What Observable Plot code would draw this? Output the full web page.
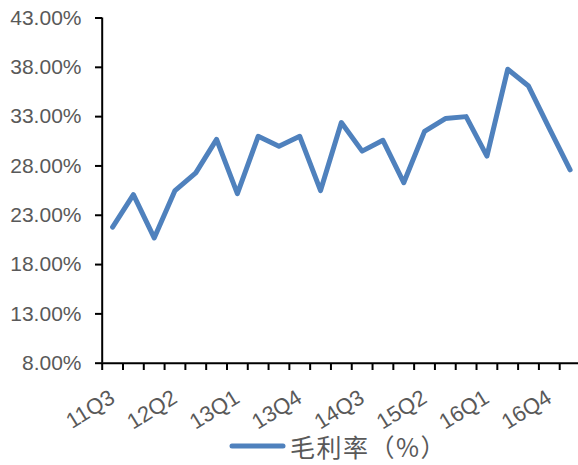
<!DOCTYPE html>
<html>
<head>
<meta charset="utf-8">
<script src="https://cdn.jsdelivr.net/npm/d3@7"></script>
<script src="https://cdn.jsdelivr.net/npm/@observablehq/plot@0.6"></script>
<style>
  html, body { margin: 0; padding: 0; background: #fff; }
  #chart { width: 578px; height: 465px; position: relative; }
  #legend {
    position: absolute; left: 229px; top: 433px; height: 26px;
    display: flex; align-items: center; gap: 4px;
    font-family: "Noto Sans CJK SC", "Noto Sans", sans-serif;
    font-size: 25px; line-height: 26px; letter-spacing: 1.5px; color: #595959;
  }
  #legend svg { display: block; }
</style>
</head>
<body>
<div id="chart"></div>
<script>
// Quarterly gross margin, 2011 Q3 – 2017 Q1
const quarters = ["11Q3","11Q4","12Q1","12Q2","12Q3","12Q4","13Q1","13Q2","13Q3","13Q4",
                  "14Q1","14Q2","14Q3","14Q4","15Q1","15Q2","15Q3","15Q4","16Q1","16Q2",
                  "16Q3","16Q4","17Q1"];
const grossMargin = [21.8, 25.1, 20.7, 25.5, 27.3, 30.7, 25.2, 31.0, 30.0, 31.0,
                     25.5, 32.4, 29.5, 30.6, 26.3, 31.5, 32.8, 33.0, 29.0, 37.8,
                     36.1, 31.8, 27.6];
const yTicks = [8, 13, 18, 23, 28, 33, 38, 43];
const labelStep = 3;
const seriesName = "毛利率（%）";
const lineColor = "#4F81BD";

const rows = quarters.map((q, i) => ({q, i, v: grossMargin[i]}));
const n = quarters.length;
const labelPos = d3.range(0, n, labelStep).map(i => i + 0.5);

const plot = Plot.plot({
  width: 578,
  height: 420,
  marginLeft: 102,
  marginTop: 18,
  marginBottom: 57,
  marginRight: 0,
  style: {fontFamily: "'Liberation Sans', Arial, sans-serif", fontSize: "21px", color: "#595959", background: "#fff", overflow: "visible"},
  x: {type: "linear", domain: [0, n], range: [101.7, 580]},
  y: {domain: [8, 43], range: [362.7, 17.5]},
  marks: [
    Plot.axisY({ticks: yTicks, tickFormat: d => d.toFixed(2) + "%", tickSize: 7, tickPadding: 14,
                stroke: "#000", strokeWidth: 2, fill: "#595959", label: null}),
    Plot.axisX({ticks: d3.range(0, n + 1), tickFormat: () => "", tickSize: 7,
                stroke: "#000", strokeWidth: 2, label: null}),
    Plot.axisX({ticks: labelPos, tickFormat: v => quarters[Math.floor(v)], tickSize: 0,
                tickPadding: 32, tickRotate: -32, fill: "#595959", fontSize: 22, label: null}),
    Plot.ruleX([0], {y1: 8, y2: 43, stroke: "#000", strokeWidth: 2}),
    Plot.ruleY([8], {x1: 0, x2: n, stroke: "#000", strokeWidth: 2}),
    Plot.line(rows, {x: d => d.i + 0.5, y: "v", stroke: lineColor, strokeWidth: 5,
                     strokeLinejoin: "round", strokeLinecap: "round"})
  ]
});

const chart = document.getElementById("chart");
chart.appendChild(plot);

const legend = document.createElement("div");
legend.id = "legend";
legend.innerHTML = `<svg width="57" height="10"><line x1="3" y1="5" x2="54" y2="5" stroke="${lineColor}" stroke-width="5" stroke-linecap="round"/></svg><span>${seriesName}</span>`;
chart.appendChild(legend);
</script>
</body>
</html>
